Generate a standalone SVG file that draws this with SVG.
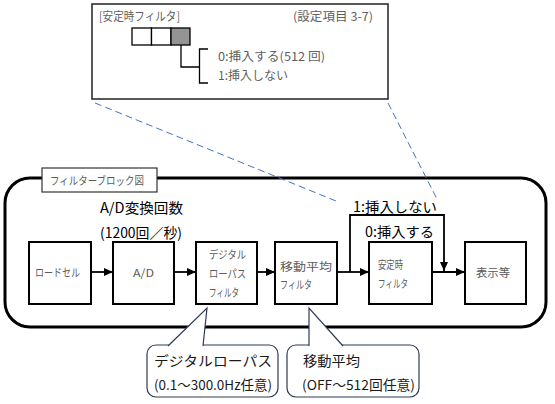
<svg xmlns="http://www.w3.org/2000/svg" width="555" height="404" viewBox="0 0 555 404">
<style>
text{font-family:"Noto Sans CJK JP","Noto Sans",sans-serif;}
.blk{fill:#fff;stroke:#000;stroke-width:2;}
.bl{font-size:11px;fill:#5a5a5a;}
.lbl{font-size:14px;fill:#000;}
.tb{font-size:12px;fill:#5f5f5f;}
.cl{font-size:13.5px;fill:#1a1a1a;}
.call{fill:#fff;stroke:#2e3a55;stroke-width:1.2;}
.con{fill:none;stroke:#000;stroke-width:1.8;}
.dash{fill:none;stroke:#4472c4;stroke-width:1;stroke-dasharray:7,4;}
</style>
<defs>
<marker id="ah" markerUnits="userSpaceOnUse" markerWidth="10" markerHeight="10" refX="9" refY="5" orient="auto">
<path d="M0,1 L9,5 L0,9 Z" fill="#000"/>
</marker>
</defs>

<g id="frame">
<rect x="5" y="178" width="541" height="149" rx="25" ry="25" fill="none" stroke="#000" stroke-width="3"/>
</g>

<g id="dashes">
<line class="dash" x1="95" y1="103" x2="336" y2="201"/>
<line class="dash" x1="388" y1="103" x2="437" y2="199"/>
</g>

<g id="frame-label">
<rect x="42" y="168" width="115" height="24" fill="#fff" stroke="#333" stroke-width="1.2"/>
<text class="bl" x="50" y="185" textLength="94" lengthAdjust="spacingAndGlyphs">フィルターブロック図</text>
</g>

<g id="setting-box">
<rect x="92" y="4" width="296" height="95" fill="#fff" stroke="#222" stroke-width="1.5"/>
<text class="tb" x="99" y="21" textLength="81" lengthAdjust="spacingAndGlyphs">[安定時フィルタ]</text>
<text class="tb" x="293" y="21" textLength="80" lengthAdjust="spacingAndGlyphs">(設定項目 3-7)</text>
<rect x="132" y="28" width="19.5" height="17" fill="#fff" stroke="#000" stroke-width="1.3"/>
<rect x="151.5" y="28" width="19.5" height="17" fill="#fff" stroke="#000" stroke-width="1.3"/>
<rect x="171" y="28" width="19" height="17" fill="#949494" stroke="#000" stroke-width="1.3"/>
<path d="M181,45 V67 H199.5 M208,49 H199.5 V83 H208" fill="none" stroke="#000" stroke-width="1.3"/>
<text class="tb" x="218" y="61" textLength="107" lengthAdjust="spacingAndGlyphs">0:挿入する(512 回)</text>
<text class="tb" x="218" y="80" textLength="70" lengthAdjust="spacingAndGlyphs">1:挿入しない</text>
</g>

<g id="connectors">
<line class="con" x1="91" y1="272" x2="113" y2="272" marker-end="url(#ah)"/>
<line class="con" x1="174" y1="272" x2="196" y2="272" marker-end="url(#ah)"/>
<line class="con" x1="257" y1="272" x2="275" y2="272" marker-end="url(#ah)"/>
<line class="con" x1="337" y1="272" x2="369" y2="272" marker-end="url(#ah)"/>
<line class="con" x1="432" y1="272" x2="465" y2="272" marker-end="url(#ah)"/>
<path class="con" d="M350,272 V215 H444 V271" marker-end="url(#ah)"/>
</g>

<g id="rate-label">
<text class="lbl" x="100" y="213" textLength="83" lengthAdjust="spacingAndGlyphs">A/D変換回数</text>
<text class="lbl" x="100" y="238" textLength="82" lengthAdjust="spacingAndGlyphs">(1200回／秒)</text>
</g>
<g id="bypass-labels">
<text class="lbl" x="353" y="212" textLength="84" lengthAdjust="spacingAndGlyphs">1:挿入しない</text>
<text class="lbl" x="365" y="237" textLength="69" lengthAdjust="spacingAndGlyphs">0:挿入する</text>
</g>

<g id="loadcell">
<rect class="blk" x="29" y="242" width="62" height="62"/>
<text class="bl" x="35" y="277" textLength="45" lengthAdjust="spacingAndGlyphs">ロードセル</text>
</g>
<g id="ad">
<rect class="blk" x="113" y="242" width="61" height="62"/>
<text class="bl" x="133" y="277" textLength="21" lengthAdjust="spacingAndGlyphs">A/D</text>
</g>
<g id="lpf">
<rect class="blk" x="196" y="242" width="61" height="62"/>
<text class="bl" x="209" y="259" textLength="37" lengthAdjust="spacingAndGlyphs">デジタル</text>
<text class="bl" x="209" y="278" textLength="37" lengthAdjust="spacingAndGlyphs">ローパス</text>
<text class="bl" x="209" y="297" textLength="30" lengthAdjust="spacingAndGlyphs">フィルタ</text>
</g>
<g id="mavg">
<rect class="blk" x="275" y="242" width="62" height="62"/>
<text class="bl" x="280" y="271" textLength="52" lengthAdjust="spacingAndGlyphs">移動平均</text>
<text class="bl" x="280" y="289" textLength="32" lengthAdjust="spacingAndGlyphs">フィルタ</text>
</g>
<g id="stable">
<rect class="blk" x="369" y="242" width="63" height="62"/>
<text class="bl" x="378" y="269" textLength="25" lengthAdjust="spacingAndGlyphs">安定時</text>
<text class="bl" x="378" y="288" textLength="30" lengthAdjust="spacingAndGlyphs">フィルタ</text>
</g>
<g id="display">
<rect class="blk" x="465" y="242" width="61" height="62"/>
<text class="bl" x="476" y="277" textLength="34" lengthAdjust="spacingAndGlyphs">表示等</text>
</g>

<g id="callout-lpf">
<rect class="call" x="147" y="345" width="131" height="52" rx="9" ry="9"/>
<path d="M168,346 L207,308 L203,346" fill="#fff" stroke="#2e3a55" stroke-width="1.2"/>
<text class="cl" x="154" y="366" textLength="118" lengthAdjust="spacingAndGlyphs">デジタルローパス</text>
<text class="cl" x="154" y="390" textLength="118" lengthAdjust="spacingAndGlyphs">(0.1～300.0Hz任意)</text>
</g>
<g id="callout-mavg">
<rect class="call" x="287" y="345" width="132" height="52" rx="9" ry="9"/>
<path d="M309,346 L309,308 L343,346" fill="#fff" stroke="#2e3a55" stroke-width="1.2"/>
<text class="cl" x="303" y="366" textLength="57" lengthAdjust="spacingAndGlyphs">移動平均</text>
<text class="cl" x="302" y="390" textLength="113" lengthAdjust="spacingAndGlyphs">(OFF～512回任意)</text>
</g>
</svg>
